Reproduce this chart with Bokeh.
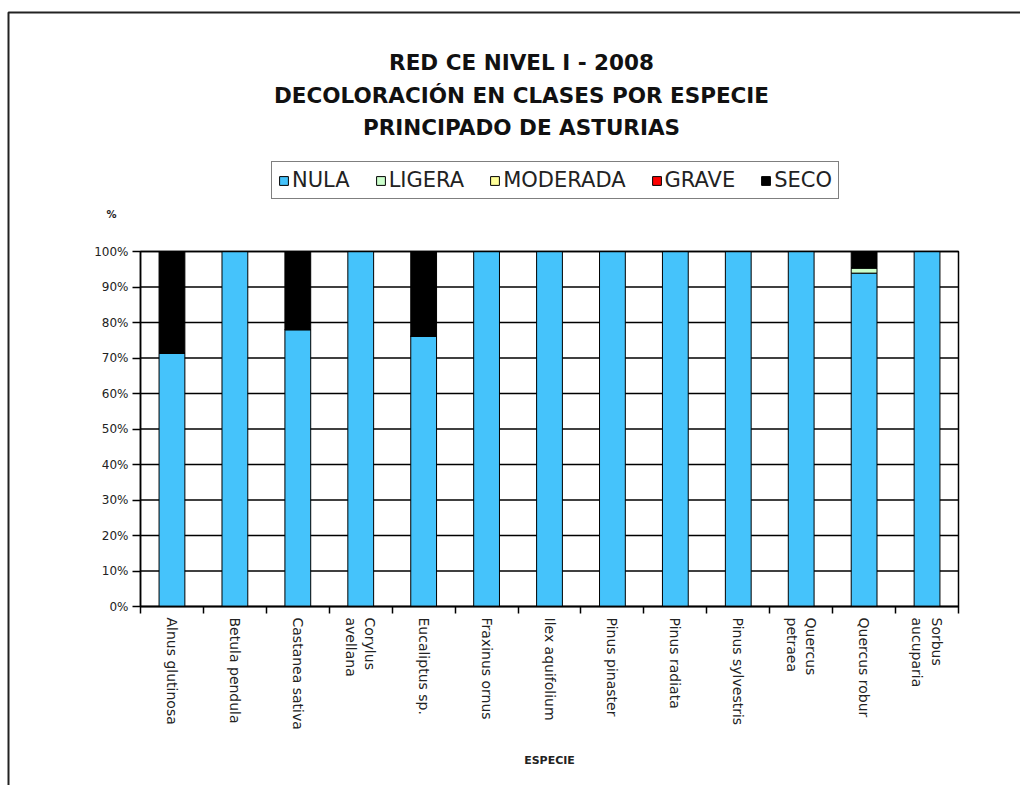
import math
from bokeh.plotting import figure
from bokeh.models import (ColumnDataSource, Range1d, FixedTicker, Legend, LegendItem, Label,
                          BoxAnnotation)
from bokeh.embed import file_html
from bokeh.resources import INLINE

# ---------------- data ----------------
species = ["Alnus glutinosa", "Betula pendula", "Castanea sativa", "Corylus avellana",
           "Eucaliptus sp.", "Fraxinus ornus", "Ilex aquifolium", "Pinus pinaster",
           "Pinus radiata", "Pinus sylvestris", "Quercus petraea", "Quercus robur",
           "Sorbus aucuparia"]
species_tick_labels = ["Alnus glutinosa", "Betula pendula", "Castanea sativa", "Corylus\navellana",
                       "Eucaliptus sp.", "Fraxinus ornus", "Ilex aquifolium", "Pinus pinaster",
                       "Pinus radiata", "Pinus sylvestris", "Quercus\npetraea", "Quercus robur",
                       "Sorbus\naucuparia"]
nula     = [71.4, 100, 78.0, 100, 76.1, 100, 100, 100, 100, 100, 100, 93.9, 100]
ligera   = [0, 0, 0, 0, 0, 0, 0, 0, 0, 0, 0, 1.5, 0]
moderada = [0, 0, 0, 0, 0, 0, 0, 0, 0, 0, 0, 0, 0]
grave    = [0, 0, 0, 0, 0, 0, 0, 0, 0, 0, 0, 0, 0]
seco     = [28.6, 0, 22.0, 0, 23.9, 0, 0, 0, 0, 0, 0, 4.6, 0]

classes = ["NULA", "LIGERA", "MODERADA", "GRAVE", "SECO"]
colors = ["#45C3FB", "#CCFFCC", "#FFFF99", "#FF0000", "#000000"]

y_ticks = [0, 10, 20, 30, 40, 50, 60, 70, 80, 90, 100]
y_tick_labels = ["0%", "10%", "20%", "30%", "40%", "50%", "60%", "70%", "80%", "90%", "100%"]

title_lines = ["RED CE NIVEL I - 2008", "DECOLORACIÓN EN CLASES POR ESPECIE", "PRINCIPADO DE ASTURIAS"]
y_unit_label = "%"
x_axis_title = "ESPECIE"

FONT = "DejaVu Sans"

# ---------------- layout geometry (pixels) ----------------
W, H = 1020, 785
PLOT_L, PLOT_R, PLOT_T, PLOT_B = 140, 958, 251, 606
n = len(species)
y_max = y_ticks[-1]
ppx = (PLOT_R - PLOT_L) / n          # pixels per category slot
ppy = (PLOT_B - PLOT_T) / y_max      # pixels per percent


def dx(px):
    return (px - PLOT_L) / ppx


def dy(py):
    return (PLOT_B - py) / ppy


x_center = [i + 0.5 for i in range(n)]      # category slot centres
x_edges = [i for i in range(n + 1)]         # category slot boundaries

source = ColumnDataSource(dict(x=x_center, species=species, NULA=nula, LIGERA=ligera,
                               MODERADA=moderada, GRAVE=grave, SECO=seco))
grid_src = ColumnDataSource(dict(y=y_ticks, x0=[0] * len(y_ticks), x1=[n] * len(y_ticks)))

p = figure(width=W, height=H,
           x_range=Range1d(dx(0), dx(W)), y_range=Range1d(dy(H), dy(0)),
           output_backend="svg", toolbar_location=None, min_border=0)
p.background_fill_color = "white"
p.border_fill_color = "white"
p.outline_line_color = None
p.xgrid.grid_line_color = None
p.ygrid.grid_line_color = None

# horizontal grid lines at the y ticks, spanning the plot area
p.segment(x0="x0", x1="x1", y0="y", y1="y", source=grid_src, line_color="black", line_width=1.3)

renderers = p.vbar_stack(classes, x="x", width=0.41, fill_color=colors,
                         line_color="black", line_width=1, source=source)

# plot-area box
p.add_layout(BoxAnnotation(left=0, right=n, bottom=0, top=y_max, fill_color=None,
                           line_color="black", line_alpha=1.0, line_width=1.5))

# y axis
yax = p.yaxis[0]
yax.fixed_location = 0
yax.bounds = (0, y_max)
yax.ticker = FixedTicker(ticks=y_ticks)
yax.major_label_overrides = {t: l for t, l in zip(y_ticks, y_tick_labels)}
yax.major_tick_out = 8
yax.major_tick_in = 0
yax.minor_tick_out = 0
yax.minor_tick_in = 0
yax.axis_line_color = "black"
yax.axis_line_width = 1.5
yax.major_tick_line_color = "black"
yax.major_tick_line_width = 1.5
yax.major_label_text_font = FONT
yax.major_label_text_font_size = "12px"
yax.major_label_text_color = "#222222"
yax.major_label_standoff = 4

# x axis: labels at slot centres, tick marks at slot boundaries
xax = p.xaxis[0]
xax.fixed_location = 0
xax.bounds = (0, n)
xax.ticker = FixedTicker(ticks=x_center, minor_ticks=x_edges)
xax.major_label_overrides = {c: l for c, l in zip(x_center, species_tick_labels)}
xax.major_tick_out = 0
xax.major_tick_in = 0
xax.major_tick_line_color = None
xax.minor_tick_out = 7
xax.minor_tick_in = 0
xax.minor_tick_line_color = "black"
xax.minor_tick_line_width = 1.5
xax.axis_line_color = "black"
xax.axis_line_width = 1.5
xax.major_label_orientation = -math.pi / 2
xax.major_label_text_font = FONT
xax.major_label_text_font_size = "14px"
xax.major_label_text_color = "#222222"
xax.major_label_standoff = 4
xax.axis_label = x_axis_title
xax.axis_label_text_font = FONT
xax.axis_label_text_font_size = "11px"
xax.axis_label_text_font_style = "bold"
xax.axis_label_text_color = "#222222"
xax.axis_label_standoff = 21

# legend
legend = Legend(items=[LegendItem(label=c, renderers=[r]) for c, r in zip(classes, renderers)],
                location=(271, H - 199), orientation="horizontal",
                label_text_font=FONT, label_text_font_size="21px", label_text_color="#222222",
                glyph_width=11, glyph_height=11, label_standoff=3, spacing=25, padding=6,
                margin=0, border_line_color="black", border_line_width=1.5,
                background_fill_color="white", background_fill_alpha=1.0)
p.add_layout(legend, "center")

# titles
title_py = [62, 95, 127]
for line, py in zip(title_lines, title_py):
    p.add_layout(Label(x=dx(521), y=dy(py), text=line, text_align="center", text_baseline="middle",
                       text_font=FONT, text_font_size="21.5px", text_font_style="bold",
                       text_color="#111111"))

p.add_layout(Label(x=dx(111), y=dy(213.5), text=y_unit_label, text_align="center",
                   text_baseline="middle", text_font=FONT, text_font_size="10px",
                   text_font_style="bold", text_color="#222222"))

# outer chart frame
p.add_layout(BoxAnnotation(left=dx(8), right=dx(W + 50), top=dy(12), bottom=dy(H + 50),
                           fill_color=None, line_color="#222222", line_alpha=1.0, line_width=2))

open("out.html", "w").write(file_html(p, INLINE))
